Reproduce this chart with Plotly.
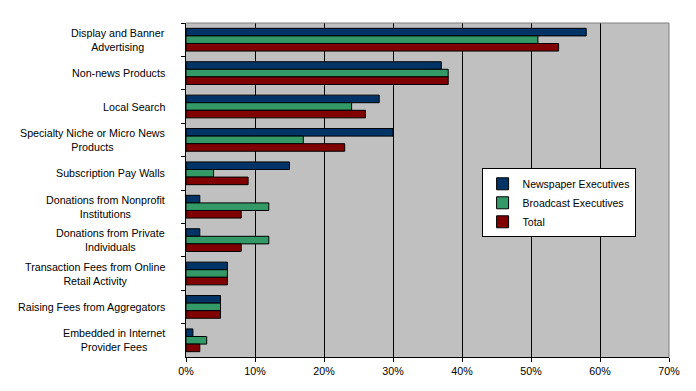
import plotly.graph_objects as go

categories = [
    "Display and Banner<br>Advertising",
    "Non-news Products",
    "Local Search",
    "Specialty Niche or Micro News<br>Products",
    "Subscription Pay Walls",
    "Donations from Nonprofit<br>Institutions",
    "Donations from Private<br>Individuals",
    "Transaction Fees from Online<br>Retail Activity",
    "Raising Fees from Aggregators",
    "Embedded in Internet<br>Provider Fees",
]
newspaper = [58, 37, 28, 30, 15, 2, 2, 6, 5, 1]
broadcast = [51, 38, 24, 17, 4, 12, 12, 6, 5, 3]
total = [54, 38, 26, 23, 9, 8, 8, 6, 5, 2]
series_names = ["Newspaper Executives", "Broadcast Executives", "Total"]
colors = ["#003366", "#339966", "#800000"]

fig = go.Figure()
for name, vals, col in zip(series_names, [newspaper, broadcast, total], colors):
    fig.add_trace(go.Bar(
        y=categories, x=[v / 100 for v in vals], name=name, orientation="h",
        marker=dict(color=col, line=dict(color="black", width=1)),
    ))

for c in categories:
    fig.add_annotation(
        x=-0.039, xref="paper", y=c, yref="y", text=c, showarrow=False,
        xanchor="right", align="center",
        font=dict(family="Liberation Sans, Arial, sans-serif", size=10.7, color="black"),
    )

# page body has an 8px margin, so the figure is sized/offset to compensate
fig.update_layout(
    width=688, height=383,
    margin=dict(l=178, r=27, t=15, b=34),
    paper_bgcolor="white", plot_bgcolor="#C0C0C0",
    barmode="group", bargap=0.32, bargroupgap=0,
    font=dict(family="Liberation Sans, Arial, sans-serif", size=10.7, color="black"),
    legend=dict(
        x=0.612, y=0.565, xanchor="left", yanchor="top",
        bgcolor="white", bordercolor="black", borderwidth=1,
        font=dict(size=10.5), tracegroupgap=0, itemwidth=30,
    ),
    xaxis=dict(
        range=[0, 0.7], dtick=0.1, tickformat=".0%",
        showgrid=True, gridcolor="black", gridwidth=1,
        showline=True, linecolor="black", linewidth=1,
        ticks="outside", ticklen=4, tickcolor="black",
        zeroline=False, fixedrange=True,
    ),
    yaxis=dict(
        autorange="reversed", showticklabels=False,
        showline=True, linecolor="black", linewidth=1,
        ticks="outside", ticklen=4, tickcolor="black", tickson="boundaries",
        showgrid=False,
    ),
    showlegend=True,
)
fig.add_shape(type="line", xref="paper", yref="paper", x0=0, x1=1, y0=1, y1=1,
              line=dict(color="#808080", width=1))
fig.add_shape(type="line", xref="paper", yref="paper", x0=1, x1=1, y0=0, y1=1,
              line=dict(color="#808080", width=1))

fig.write_html("out.html")
